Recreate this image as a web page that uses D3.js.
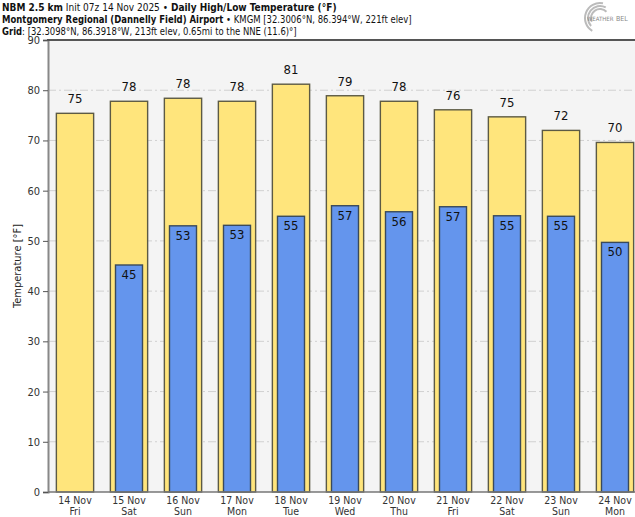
<!DOCTYPE html>
<html><head><meta charset="utf-8">
<script src="https://cdn.jsdelivr.net/npm/d3@7"></script>
<style>body{margin:0;background:#fff}svg{display:block}text{font-family:"DejaVu Sans Condensed","DejaVu Sans",sans-serif}</style>
</head><body><svg id="c" width="635" height="517"></svg>
<script>
const dates = ["14 Nov","15 Nov","16 Nov","17 Nov","18 Nov","19 Nov","20 Nov","21 Nov","22 Nov","23 Nov","24 Nov"];
const days = ["Fri","Sat","Sun","Mon","Tue","Wed","Thu","Fri","Sat","Sun","Mon"];
const highs = [75.4,77.8,78.4,77.8,81.2,78.9,77.8,76.1,74.7,72.0,69.6];
const lows = [null,45.2,53.0,53.1,54.9,57.0,55.8,56.8,55.0,54.9,49.7];
const yTicks = [0,10,20,30,40,50,60,70,80,90];

const svg = d3.select("#c");
const L=48, R=642, T=40, B=492;
const x = d3.scaleBand().domain(dates).range([L,R]).paddingInner(0).paddingOuter(0);
const y = d3.scaleLinear().domain([0,90]).range([B,T]);

svg.append("rect").attr("x",L).attr("y",T).attr("width",R-L).attr("height",B-T).attr("fill","#f4f4f4");
svg.append("g").selectAll("line").data(yTicks.filter(d=>d>0&&d<90)).join("line")
  .attr("x1",L).attr("x2",R).attr("y1",d=>y(d)).attr("y2",d=>y(d))
  .attr("stroke","#d0d0d0").attr("stroke-width",1).attr("stroke-dasharray","8,3,2,3");

const bw = x.bandwidth();
const hw = bw*0.69, lw = bw*0.5;
const g = svg.append("g");
g.selectAll("rect.h").data(dates).join("rect").attr("class","h")
  .attr("x",d=>x(d)+(bw-hw)/2).attr("width",hw)
  .attr("y",(d,i)=>y(highs[i])).attr("height",(d,i)=>B-y(highs[i]))
  .attr("fill","#ffe57c").attr("stroke","#5c5a44").attr("stroke-width",1.4);
const lowIdx = dates.map((d,i)=>i).filter(i=>lows[i]!=null);
g.selectAll("rect.l").data(lowIdx).join("rect").attr("class","l")
  .attr("x",i=>x(dates[i])+(bw-lw)/2).attr("width",lw)
  .attr("y",i=>y(lows[i])).attr("height",i=>B-y(lows[i]))
  .attr("fill","#6495ed").attr("stroke","#3a4a5a").attr("stroke-width",1.4);
g.selectAll("text.h").data(dates).join("text").attr("class","h")
  .attr("x",d=>x(d)+bw/2).attr("y",(d,i)=>y(highs[i])-10)
  .attr("text-anchor","middle").attr("font-size",13).attr("fill","#111")
  .text((d,i)=>Math.round(highs[i]));
g.selectAll("text.l").data(lowIdx).join("text").attr("class","l")
  .attr("x",i=>x(dates[i])+bw/2).attr("y",i=>y(lows[i])+14)
  .attr("text-anchor","middle").attr("font-size",13).attr("fill","#111")
  .text(i=>Math.round(lows[i]));

const ya = svg.append("g").attr("transform",`translate(${L},0)`)
  .call(d3.axisLeft(y).tickValues(yTicks).tickSize(5).tickPadding(3));
ya.select(".domain").attr("stroke","#888").attr("stroke-width",2);
ya.selectAll(".tick line").attr("stroke","#555");
ya.selectAll("text").attr("font-size",11).attr("fill","#333").attr("font-family","DejaVu Sans Condensed, DejaVu Sans, sans-serif");

svg.append("line").attr("x1",L).attr("x2",635).attr("y1",B).attr("y2",B).attr("stroke","#777").attr("stroke-width",1.5);
svg.append("line").attr("x1",L-1).attr("x2",635).attr("y1",T).attr("y2",T).attr("stroke","#555").attr("stroke-width",2);

const xa = svg.append("g").attr("transform",`translate(0,${B})`)
  .call(d3.axisBottom(x).tickSize(0).tickFormat(""));
xa.select(".domain").remove();
xa.selectAll(".tick").append("text").attr("y",11.5).attr("text-anchor","middle")
  .attr("font-size",10.5).attr("fill","#333").text(d=>d);
xa.selectAll(".tick").append("text").attr("y",23.3).attr("text-anchor","middle")
  .attr("font-size",10.5).attr("fill","#333").text((d,i)=>days[i]);

svg.append("text").attr("transform",`translate(21,${(T+B)/2}) rotate(-90)`)
  .attr("text-anchor","middle").attr("font-size",11).attr("fill","#222").text("Temperature [°F]");

function fitLine(yPos, target, parts){
  const t = svg.append("text").attr("x",0).attr("y",0).attr("font-size",10).attr("fill","#111");
  parts.forEach(([s,b])=>t.append("tspan").attr("font-weight",b?"bold":null).text(s));
  const w = t.node().getComputedTextLength();
  t.attr("transform",`translate(2,${yPos}) scale(${target/w},1)`);
}
fitLine(11,335,[["NBM 2.5 km",1],[" Init 07z 14 Nov 2025 • ",0],["Daily High/Low Temperature (°F)",1]]);
fitLine(23,410,[["Montgomery Regional (Dannelly Field) Airport",1],[" • KMGM [32.3006°N, 86.394°W, 221ft elev]",0]]);
fitLine(35,295,[["Grid",1],[": [32.3098°N, 86.3918°W, 213ft elev, 0.65mi to the NNE (11.6)°]",0]]);

const lg = svg.append("g").attr("transform","translate(600,18)");
[16,13,10].forEach((r,i)=>lg.append("path")
  .attr("d",d3.arc()({innerRadius:r-2,outerRadius:r,startAngle:-2.6+i*0.3,endAngle:0.2+i*0.3}))
  .attr("fill","#bbb"));
lg.append("text").attr("x",-13).attr("y",3).attr("font-size",6).attr("fill","#888").attr("font-family","Liberation Serif, serif").text("WEATHER");
lg.append("text").attr("x",16).attr("y",3).attr("font-size",7).attr("fill","#888").attr("font-family","Liberation Serif, serif").text("BEL");
</script></body></html>
